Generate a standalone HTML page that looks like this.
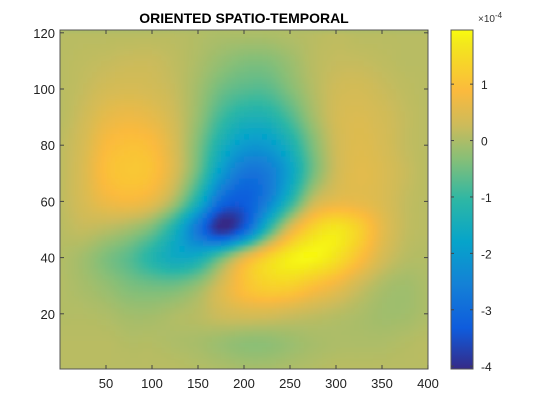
<!DOCTYPE html>
<html><head><meta charset="utf-8"><style>
body{margin:0;background:#fff;}
svg{display:block;font-family:"Liberation Sans",sans-serif;}
</style></head><body>
<svg id="chart" width="550" height="415" viewBox="0 0 550 415">
<defs>
<clipPath id="pc"><rect x="60" y="30" width="368" height="339"/></clipPath>
<filter id="bl" x="-5%" y="-5%" width="110%" height="110%"><feGaussianBlur stdDeviation="1.5" edgeMode="duplicate"/></filter>
<linearGradient id="cbg" x1="0" y1="1" x2="0" y2="0"></linearGradient>
</defs>
<text x="244" y="23" text-anchor="middle" font-weight="bold" font-size="14">ORIENTED SPATIO-TEMPORAL</text>
<rect x="60" y="30" width="368" height="339" fill="#adbd67"/>
<g clip-path="url(#pc)"><g id="cells" filter="url(#bl)"></g></g>
<rect x="60" y="30" width="368" height="339" fill="none" stroke="#555" stroke-width="1"/>
<g id="xt"></g>
<g id="yt"></g>
<rect x="451" y="30" width="22" height="339" fill="url(#cbg)" stroke="#555" stroke-width="1"/>
<g id="ct"></g>
<text x="478" y="22" font-size="10" fill="#333">×10<tspan dy="-4" font-size="8">-4</tspan></text>
</svg>
<script>
const xs=[0,25,50,75,100,125,150,175,200,225,250,275,300,325,350,375,400];
const ys=[120,110,100,90,80,70,60,50,40,30,20,10,0];
const vals=[
[0.1,0.1,0.1,0.1,0.1,0.1,0.05,0,0,0,0.05,0.1,0.15,0.1,0.1,0.1,0.1],
[0.1,0.15,0.2,0.25,0.25,0.15,0,-0.2,-0.35,-0.35,-0.15,0.1,0.2,0.2,0.15,0.1,0.1],
[0.1,0.2,0.35,0.4,0.35,0.2,-0.1,-0.5,-0.7,-0.7,-0.35,0.05,0.3,0.35,0.25,0.15,0.1],
[0.1,0.3,0.6,0.7,0.6,0.3,-0.2,-0.9,-1.3,-1.3,-0.8,-0.1,0.35,0.45,0.35,0.2,0.1],
[0.15,0.4,0.85,1.0,0.9,0.4,-0.4,-1.4,-2.0,-2.0,-1.4,-0.4,0.3,0.5,0.4,0.2,0.1],
[0.15,0.45,0.95,1.1,1.0,0.4,-0.6,-2.0,-2.8,-2.7,-1.8,-0.5,0.3,0.55,0.45,0.25,0.1],
[0.15,0.4,0.7,0.8,0.6,-0.1,-1.4,-3.0,-3.3,-2.6,-1.2,0.2,0.6,0.6,0.45,0.2,0.1],
[0.1,0.2,0.1,-0.1,-0.5,-1.4,-2.8,-4.0,-3.2,-1.2,0.5,1.4,1.7,1.3,0.6,0.2,0.1],
[0.05,-0.1,-0.4,-0.7,-1.2,-1.6,-1.5,-0.6,0.5,1.3,1.8,1.9,1.6,1.0,0.4,0.1,0.05],
[0.05,-0.05,-0.2,-0.4,-0.5,-0.5,-0.2,0.4,1.0,1.3,1.3,1.0,0.7,0.3,0,-0.1,0],
[0.05,0.05,0,-0.1,-0.1,0,0.1,0.3,0.4,0.4,0.3,0.2,0.1,0,-0.1,-0.1,0],
[0.1,0.1,0.1,0.05,0.05,0,-0.05,-0.15,-0.25,-0.25,-0.15,-0.05,0,0,0,0.05,0.1],
[0.1,0.1,0.1,0.1,0.1,0.1,0.05,0,-0.05,-0.05,0,0.05,0.1,0.1,0.1,0.1,0.1]];
const xTicks=[50,100,150,200,250,300,350,400];
const yTicks=[20,40,60,80,100,120];
const cTicks=[1,0,-1,-2,-3,-4];
const cmin=-4.05,cmax=1.96;
const NS="http://www.w3.org/2000/svg";
const X=v=>60+v*0.92, Y=v=>370-v*2.81, C=v=>369-(v-cmin)/(cmax-cmin)*339;
const palT=[0,0.12,0.25,0.375,0.5,0.62,0.72,0.82,0.9,0.96,1];
const pal=[[53,42,135],[15,92,221],[20,129,214],[6,164,202],[46,183,164],[135,191,119],[205,187,90],[251,186,61],[247,212,42],[243,232,28],[249,251,14]];
function col(v){let t=Math.max(0,Math.min(1,(v-cmin)/(cmax-cmin)));let i=0;while(i<palT.length-2&&t>palT[i+1])i++;
const f=(t-palT[i])/(palT[i+1]-palT[i]);
const c=pal[i].map((a,k)=>Math.round(a+(pal[i+1][k]-a)*f));return `rgb(${c})`;}
const grad=document.getElementById('cbg');
palT.forEach((t,i)=>{const s=document.createElementNS(NS,'stop');s.setAttribute('offset',t);s.setAttribute('stop-color',`rgb(${pal[i]})`);grad.appendChild(s);});
function cr(p0,p1,p2,p3,t){return 0.5*(2*p1+(-p0+p2)*t+(2*p0-5*p1+4*p2-p3)*t*t+(-p0+3*p1-3*p2+p3)*t*t*t);}
const R=ys.length,K=xs.length;
function at(r,c){r=Math.max(0,Math.min(R-1,r));c=Math.max(0,Math.min(K-1,c));return vals[r][c];}
function sample(fr,fc){const r=Math.floor(fr),c=Math.floor(fc),tr=fr-r,tc=fc-c;const rows=[];
 for(let i=-1;i<3;i++)rows.push(cr(at(r+i,c-1),at(r+i,c),at(r+i,c+1),at(r+i,c+2),tc));
 return cr(rows[0],rows[1],rows[2],rows[3],tr);}
const g=document.getElementById('cells');
const S=5, xstep=xs[1]-xs[0], ystep=ys[0]-ys[1];
for(let r=0;r<R-1;r++)for(let c=0;c<K-1;c++)for(let i=0;i<S;i++)for(let j=0;j<S;j++){
 const fr=r+(i+0.5)/S, fc=c+(j+0.5)/S;
 const x0=X(xs[c]+xstep*j/S), y0=Y(ys[r]-ystep*i/S);
 const e=document.createElementNS(NS,'rect');
 e.setAttribute('x',x0.toFixed(2));e.setAttribute('y',y0.toFixed(2));
 e.setAttribute('width',(xstep*0.92/S+0.6).toFixed(2));e.setAttribute('height',(ystep*2.81/S+0.6).toFixed(2));
 e.setAttribute('fill',col(sample(fr,fc)));
 
 
 g.appendChild(e);}
function ln(p,x1,y1,x2,y2){const l=document.createElementNS(NS,'line');l.setAttribute('x1',x1);l.setAttribute('y1',y1);l.setAttribute('x2',x2);l.setAttribute('y2',y2);l.setAttribute('stroke','#444');p.appendChild(l);return l;}
function tx(p,x,y,s,a){const t=document.createElementNS(NS,'text');t.setAttribute('x',x);t.setAttribute('y',y);t.setAttribute('font-size','13');t.setAttribute('fill','#222');t.setAttribute('text-anchor',a);t.textContent=s;p.appendChild(t);return t;}
const xt=document.getElementById('xt');
xTicks.forEach(v=>{ln(xt,X(v),369,X(v),365);ln(xt,X(v),30,X(v),34);
 const t=tx(xt,X(v),388,String(v),'middle');
 
 });
const yt=document.getElementById('yt');
yTicks.forEach(v=>{ln(yt,60,Y(v),64,Y(v));ln(yt,428,Y(v),424,Y(v));
 const t=tx(yt,55,Y(v)+5,String(v),'end');
 
 });
const ct=document.getElementById('ct');
cTicks.forEach(v=>{ln(ct,451,C(v),454,C(v));ln(ct,473,C(v),470,C(v));
 const t=tx(ct,481,C(v)+5,String(v),'start');t.setAttribute('font-size','12');
 
 });
</script>
</body></html>
